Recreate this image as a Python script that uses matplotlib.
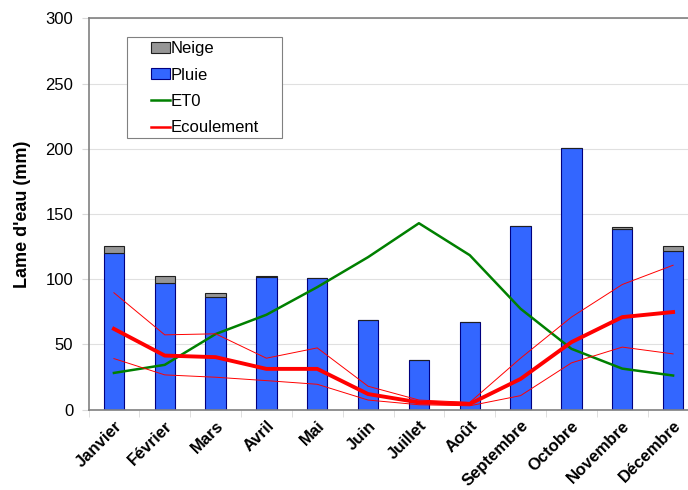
import matplotlib.pyplot as plt
import matplotlib.patches as mpatches
import numpy as np

plt.rcParams['font.family'] = ['Liberation Sans', 'DejaVu Sans']

# données mensuelles (mm)
mois = ['Janvier', 'Février', 'Mars', 'Avril', 'Mai', 'Juin', 'Juillet',
        'Août', 'Septembre', 'Octobre', 'Novembre', 'Décembre']
pluie = [120, 97.5, 86.7, 101.5, 101, 68.5, 38, 67, 140.5, 201, 138.8, 122]
neige = [5.5, 5.3, 3, 0.7, 0, 0, 0, 0, 0, 0, 1, 3.6]
et0 = [28.2, 34.4, 58, 72.8, 94, 117, 143, 118.5, 77.4, 46.7, 31.5, 26.2]
ecoul = [62, 41.5, 40.3, 31.3, 31.3, 12, 5.6, 4.4, 23.6, 51.8, 71, 74.9]
ecoul_haut = [89.7, 57.4, 58.2, 39.5, 47.4, 18, 7.4, 5.6, 39.5, 71, 96, 110.8]
ecoul_bas = [39.2, 26.7, 24.9, 22.3, 19.5, 7.4, 3.8, 3, 10.8, 35.9, 48, 42.8]

fig = plt.figure(figsize=(6.88, 4.90), dpi=100)
ax = fig.add_axes([88.5 / 688, (490 - 409.7) / 490, 610 / 688, 391.2 / 490])

x = np.arange(len(mois))
ax.bar(x, pluie, width=0.4, color='#3366ff', edgecolor='#000080', linewidth=0.8,
       label='Pluie', zorder=2)
ax.bar(x, neige, width=0.4, bottom=pluie, color='#969696', edgecolor='#202020',
       linewidth=0.8, label='Neige', zorder=2)

ax.plot(x, et0, color='#008000', lw=1.8, label='ET0', zorder=3)
ax.plot(x, ecoul_haut, color='#ff0000', lw=0.7, zorder=3)
ax.plot(x, ecoul_bas, color='#ff0000', lw=0.7, zorder=3)
ax.plot(x, ecoul, color='#ff0000', lw=2.8, label='Ecoulement', zorder=4)

ax.set_xlim(-0.5, 11.5)
ax.set_ylim(0, 300)
ax.set_yticks(np.arange(0, 301, 50))
ax.tick_params(axis='y', labelsize=12, length=5, color='#d9d9d9', pad=6)
ax.yaxis.grid(True, color='#e0e0e0', lw=0.8, zorder=0)
ax.set_axisbelow(True)

ax.set_xticks(x)
ax.set_xticklabels(mois, rotation=45, ha='right', rotation_mode='anchor',
                   fontsize=12, fontweight='bold')
ax.tick_params(axis='x', length=0, pad=6)
ax.set_xticks(np.arange(-0.5, 12, 1), minor=True)
ax.tick_params(axis='x', which='minor', length=5, color='#d9d9d9')

for s in ['left', 'bottom', 'top', 'right']:
    ax.spines[s].set_color('#808080')
    ax.spines[s].set_linewidth(1.2)

ax.set_ylabel("Lame d'eau (mm)", fontsize=13, fontweight='bold', labelpad=10)

# cadre de la légende
cadre = mpatches.Rectangle((127 / 688, 1 - 138 / 490), 155 / 688, 101 / 490,
                           transform=fig.transFigure, facecolor='white',
                           edgecolor='#808080', lw=0.8, zorder=5, clip_on=False)
ax.add_artist(cadre)

h, l = ax.get_legend_handles_labels()
ordre = ['Neige', 'Pluie', 'ET0', 'Ecoulement']
hh = [h[l.index(k)] for k in ordre]
leg = ax.legend(hh, ordre, loc='upper left', bbox_to_anchor=(148 / 688, 1 - 38 / 490),
                bbox_transform=fig.transFigure, fontsize=12, frameon=False,
                handlelength=1.1, handleheight=0.6, handletextpad=0.05,
                borderpad=0.2, labelspacing=0.68, borderaxespad=0)
leg.set_zorder(6)
for ln in leg.get_lines():
    ln.set_linewidth(1.8)

fig.savefig('out.png', dpi=100)
